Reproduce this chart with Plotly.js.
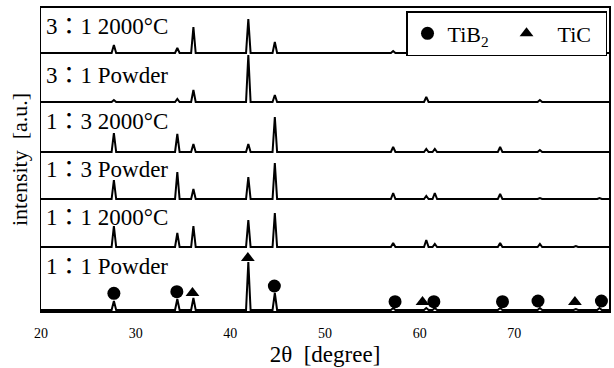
<!DOCTYPE html>
<html>
<head>
<meta charset="utf-8">
<script src="https://cdn.plot.ly/plotly-3.0.1.min.js"></script>
<style>html,body{margin:0;padding:0;background:#fff;}#chart{width:614px;height:368px;}</style>
</head>
<body>
<div id="chart"></div>
<script>
// ---- data ----
const sampleNames = ["3：1 2000°C", "3：1 Powder", "1：3 2000°C", "1：3 Powder", "1：1 2000°C", "1：1 Powder"];
// peak positions (2θ, degree)
const peakPos = [27.7, 34.4, 36.1, 41.9, 44.7, 57.2, 60.7, 61.6, 68.5, 72.7, 76.5, 79.0];
// peak heights (a.u.) for each sample, same order as peakPos
const h31_2000 = [8, 5, 26, 34, 11, 2, 10, 0, 2, 5, 2, 0];
const h31_powder = [2, 3, 12, 47, 7, 0, 5, 0, 0, 2, 0, 0];
const h13_2000 = [19, 18, 8, 8, 35, 5, 3, 3, 5, 2, 0, 0];
const h13_powder = [19, 27, 10, 22, 36, 6, 3, 6, 5, 1, 0, 1];
const h11_2000 = [21, 14, 21, 27, 34, 4, 7, 3, 4, 3, 1, 0];
const h11_powder = [9, 11, 12, 48, 17, 2, 2, 2, 2, 2, 1, 2];
// phase markers on the 1:1 Powder pattern
const tib2X = [27.7, 34.35, 44.65, 57.4, 61.5, 68.75, 72.5, 79.2];
const tib2Y = [17.7, 19.3, 25, 9.3, 9.3, 9.3, 10, 10];
const ticX = [36.0, 41.85, 60.3, 76.4];
const ticY = [18, 53, 9, 9];
const xTicks = [20, 30, 40, 50, 60, 70, 80];

// ---- layout / style ----
const heights = [h31_2000, h31_powder, h13_2000, h13_powder, h11_2000, h11_powder];
const offsets = [258, 209, 159, 112, 64, 1];
const labelY = [285, 235.5, 189.5, 142, 94, 45];
const halfWidth = 0.24;
const serif = "Liberation Serif, Times New Roman, serif";
const labelFont = "Liberation Serif, Noto Sans CJK JP, serif";

const traces = [];
heights.forEach((hs, i) => {
  const xs = [20], ys = [offsets[i]];
  peakPos.forEach((p, k) => {
    if (hs[k] > 0) {
      xs.push(p - halfWidth, p, p + halfWidth);
      ys.push(offsets[i], offsets[i] + hs[k], offsets[i]);
    }
  });
  xs.push(80); ys.push(offsets[i]);
  traces.push({x: xs, y: ys, mode: 'lines', line: {color: '#000', width: 2}, showlegend: false, hoverinfo: 'skip'});
});
traces.push({x: tib2X, y: tib2Y, mode: 'markers', name: 'TiB<sub>2</sub>',
  marker: {symbol: 'circle', size: 13, color: '#000'}});
traces.push({x: ticX, y: ticY, mode: 'markers', name: '\u00a0\u00a0TiC',
  marker: {symbol: 'triangle-up', size: 12, color: '#000'}});

const annotations = sampleNames.map((n, i) => ({
  text: n, x: 20.3, y: labelY[i], xref: 'x', yref: 'y', xanchor: 'left', yanchor: 'middle',
  showarrow: false, font: {family: labelFont, size: 23, color: '#000'}
}));

const layout = {
  width: 614, height: 368,
  margin: {l: 41, r: 5, t: 8, b: 57},
  paper_bgcolor: '#fff', plot_bgcolor: '#fff',
  font: {family: serif, color: '#000'},
  xaxis: {range: [20, 80], tickvals: xTicks, ticktext: xTicks.map(String), ticks: '',
    showgrid: false, zeroline: false, showline: true, mirror: true, linecolor: '#000', linewidth: 2,
    ticklabelstandoff: 8, tickfont: {family: serif, size: 14, color: '#000'},
    title: {text: '2θ  [degree]', font: {family: serif, size: 23, color: '#000'}, standoff: 6}},
  yaxis: {range: [0, 303], showticklabels: false, ticks: '', showgrid: false, zeroline: false,
    showline: true, mirror: true, linecolor: '#000', linewidth: 1.5,
    title: {text: 'intensity  [a.u.]', font: {family: serif, size: 22, color: '#000'}, standoff: 6}},
  legend: {orientation: 'h', x: 0.9965, xanchor: 'right', y: 0.99, yanchor: 'top',
    bgcolor: '#fff', bordercolor: '#000', borderwidth: 1.5, entrywidth: 54,
    font: {family: serif, size: 22, color: '#000'}},
  annotations: annotations,
  showlegend: true
};

Plotly.newPlot('chart', traces, layout, {displayModeBar: false, staticPlot: true});
</script>
</body>
</html>
